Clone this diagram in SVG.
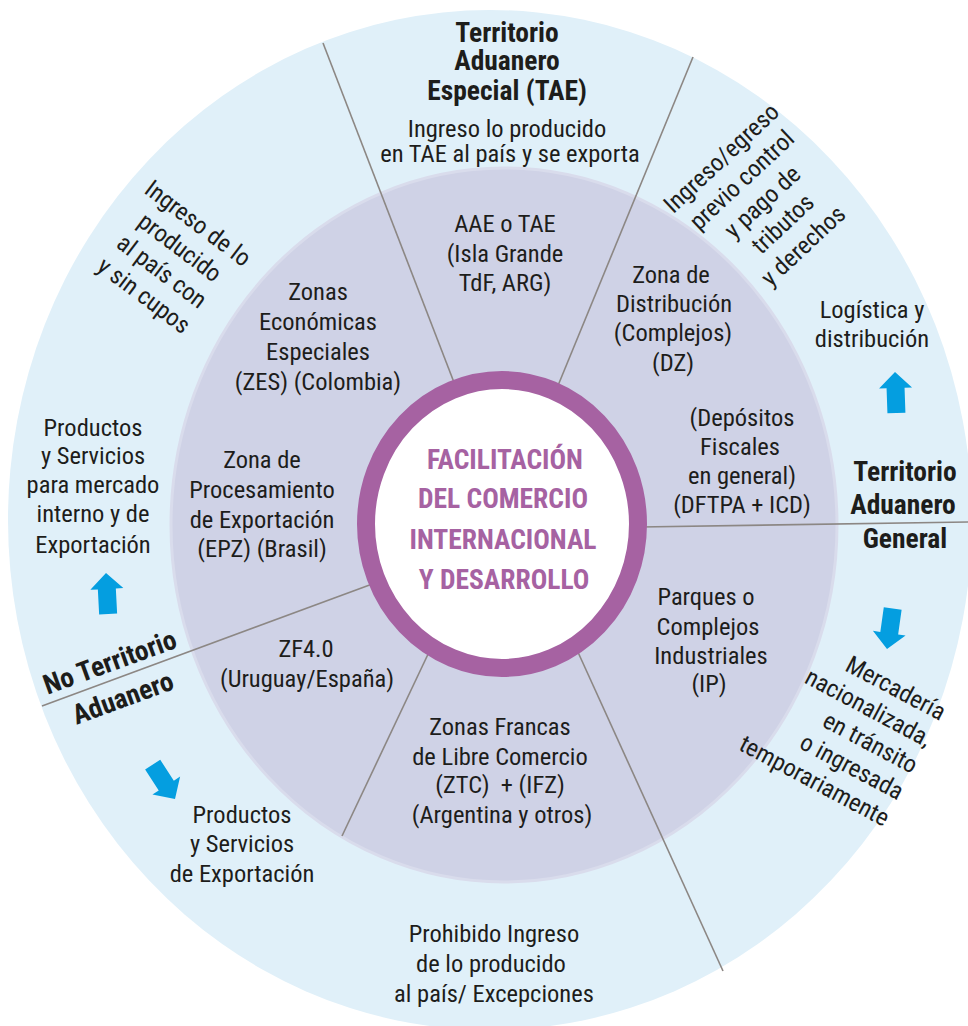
<svg xmlns="http://www.w3.org/2000/svg" width="968" height="1026" viewBox="0 0 968 1026">
<style>
.t{font-family:"Roboto Condensed","Roboto",sans-serif;font-stretch:condensed;font-size:24.5px;fill:#1d1d1b;text-anchor:middle}
.b{font-weight:700;font-size:27.5px}
.c{font-weight:700;font-size:27.5px;fill:#a662a2}
.e{text-anchor:end}
.ln{stroke:#8c8784;stroke-width:1.6;fill:none}
.ar{fill:#049ee0}
</style>
<defs>
<path id="arr" d="M0 0 L16.5 16 L9 16 L9 41 L-9 41 L-9 16 L-16.5 16 Z"/>
</defs>
<rect width="968" height="1026" fill="#ffffff"/>
<g id="outer"><ellipse cx="490" cy="520" rx="482" ry="510" fill="#e0f0f9"/></g>
<g id="inner"><ellipse cx="504" cy="525" rx="333" ry="357" fill="#cfd2e6" stroke="#d9dcec" stroke-width="3"/></g>
<g id="connectors">
<line class="ln" x1="323" y1="43" x2="455" y2="385"/>
<line class="ln" x1="693" y1="57" x2="557" y2="388"/>
<line class="ln" x1="968" y1="522" x2="640" y2="527"/>
<line class="ln" x1="723" y1="971" x2="577" y2="650"/>
<line class="ln" x1="342" y1="836" x2="430" y2="650"/>
<line class="ln" x1="42" y1="706" x2="375" y2="583"/>
</g>
<g id="center">
<ellipse cx="502" cy="524" rx="136" ry="144" fill="#ffffff" stroke="#a662a2" stroke-width="18"/>
<text class="t c"><tspan x="505" y="469">FACILITACIÓN</tspan><tspan x="503" y="508">DEL COMERCIO</tspan><tspan x="503" y="549">INTERNACIONAL</tspan><tspan x="504" y="589">Y DESARROLLO</tspan></text>
</g>
<g id="tae">
<text class="t b"><tspan x="507" y="42">Territorio</tspan><tspan x="507" y="70">Aduanero</tspan><tspan x="507" y="100">Especial (TAE)</tspan></text>
<text class="t"><tspan x="507" y="137">Ingreso lo producido</tspan><tspan x="510" y="162">en TAE al país y se exporta</tspan></text>
</g>
<g id="aae"><text class="t"><tspan x="505" y="232">AAE o TAE</tspan><tspan x="505" y="262">(Isla Grande</tspan><tspan x="505" y="291">TdF, ARG)</tspan></text></g>
<g id="zes"><text class="t"><tspan x="318" y="300">Zonas</tspan><tspan x="318" y="330">Económicas</tspan><tspan x="318" y="360">Especiales</tspan><tspan x="318" y="390">(ZES) (Colombia)</tspan></text></g>
<g id="epz"><text class="t"><tspan x="262" y="468">Zona de</tspan><tspan x="262" y="498">Procesamiento</tspan><tspan x="262" y="528">de Exportación</tspan><tspan x="262" y="557">(EPZ) (Brasil)</tspan></text></g>
<g id="zf4"><text class="t"><tspan x="306" y="657">ZF4.0</tspan><tspan x="307" y="687">(Uruguay/España)</tspan></text></g>
<g id="ztc"><text class="t"><tspan x="500" y="735">Zonas Francas</tspan><tspan x="500" y="765">de Libre Comercio</tspan><tspan x="500" y="793">(ZTC) &#160;+ (IFZ)</tspan><tspan x="502" y="823">(Argentina y otros)</tspan></text></g>
<g id="prohibido"><text class="t"><tspan x="494" y="942">Prohibido Ingreso</tspan><tspan x="491" y="972">de lo producido</tspan><tspan x="494" y="1002">al país/ Excepciones</tspan></text></g>
<g id="prodexp"><text class="t"><tspan x="242" y="823">Productos</tspan><tspan x="242" y="852">y Servicios</tspan><tspan x="242" y="882">de Exportación</tspan></text></g>
<g id="prodint"><text class="t"><tspan x="93" y="436">Productos</tspan><tspan x="93" y="464">y Servicios</tspan><tspan x="93" y="493">para mercado</tspan><tspan x="93" y="522">interno y de</tspan><tspan x="93" y="553">Exportación</tspan></text></g>
<g id="ip"><text class="t"><tspan x="706" y="605">Parques o</tspan><tspan x="708" y="635">Complejos</tspan><tspan x="711" y="664">Industriales</tspan><tspan x="709" y="692">(IP)</tspan></text></g>
<g id="dftpa"><text class="t"><tspan x="742" y="426">(Depósitos</tspan><tspan x="740" y="455">Fiscales</tspan><tspan x="742" y="484">en general)</tspan><tspan x="742" y="513">(DFTPA + ICD)</tspan></text></g>
<g id="dz"><text class="t"><tspan x="671" y="283">Zona de</tspan><tspan x="674" y="312">Distribución</tspan><tspan x="673" y="341">(Complejos)</tspan><tspan x="673" y="371">(DZ)</tspan></text></g>
<g id="logistica"><text class="t"><tspan x="872" y="318">Logística y</tspan><tspan x="872" y="347">distribución</tspan></text></g>
<g id="tag"><text class="t b"><tspan x="905" y="481">Territorio</tspan><tspan x="903" y="514">Aduanero</tspan><tspan x="905" y="548">General</tspan></text></g>
<g id="ingreso-cupos" transform="translate(193,230) rotate(37)"><text class="t"><tspan x="0" y="0">Ingreso de lo</tspan><tspan x="0" y="30">producido</tspan><tspan x="0" y="60">al país con</tspan><tspan x="0" y="90">y sin cupos</tspan></text></g>
<g id="ingreso-egreso" transform="translate(727,164) rotate(-43)"><text class="t"><tspan x="0" y="0">Ingreso/egreso</tspan><tspan x="0" y="30">previo control</tspan><tspan x="0" y="60">y pago de</tspan><tspan x="0" y="90">tributos</tspan><tspan x="0" y="120">y derechos</tspan></text></g>
<g id="mercaderia" transform="translate(940,721) rotate(28)"><text class="t e"><tspan x="0" y="0">Mercadería</tspan><tspan x="0" y="30">nacionalizada,</tspan><tspan x="0" y="60">en tránsito</tspan><tspan x="0" y="90">o ingresada</tspan><tspan x="0" y="120">temporariamente</tspan></text></g>
<g id="no-territorio" transform="translate(113,671) rotate(-20)"><text class="t b"><tspan x="0" y="0">No Territorio</tspan><tspan x="0" y="38">Aduanero</tspan></text></g>
<g id="arrows">
<use href="#arr" class="ar" transform="translate(106,573) rotate(-3)"/>
<use href="#arr" class="ar" transform="translate(895,372) rotate(-2)"/>
<use href="#arr" class="ar" transform="translate(887,649) rotate(188)"/>
<use href="#arr" class="ar" transform="translate(175,799) rotate(147)"/>
</g>
</svg>
